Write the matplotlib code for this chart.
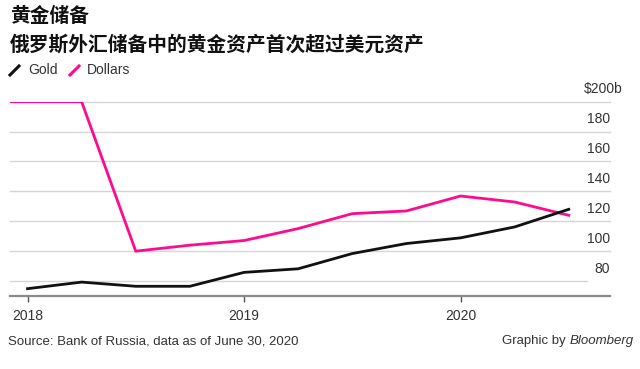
import matplotlib
matplotlib.use('Agg')
import matplotlib.pyplot as plt
from matplotlib.lines import Line2D

plt.rcParams['font.family'] = ['Liberation Sans', 'Noto Sans CJK SC']

# data (billions of US$, quarterly)
gold_dates = [2018.0, 2018.25, 2018.5, 2018.75, 2019.0, 2019.25, 2019.5, 2019.75,
              2020.0, 2020.25, 2020.5]
gold_vals = [74.9, 79.3, 76.5, 76.5, 85.8, 88.2, 98.4, 105.1, 108.9, 116.2, 128.0]

dollar_dates = [2017.75, 2018.0, 2018.25, 2018.5, 2018.75, 2019.0, 2019.25, 2019.5,
                2019.75, 2020.0, 2020.25, 2020.5]
dollar_vals = [200.0, 200.0, 200.0, 100.0, 104.0, 107.1, 115.1, 125.1, 126.9, 136.9,
               132.9, 124.0]

y_ticks = [80, 100, 120, 140, 160, 180, 200]
y_labels = ['80', '100', '120', '140', '160', '180', '$200b']
x_ticks = [2018, 2019, 2020]
x_labels = ['2018', '2019', '2020']

W, H = 640, 369
GOLD_C = '#111111'
DOLLAR_C = '#ff0a8c'
TEXT_C = '#333333'

fig = plt.figure(figsize=(6.4, 3.69), dpi=100)
# axes spans px x 10..610, y 101.7..296
ax = fig.add_axes([10 / W, (H - 296) / H, 600 / W, (296 - 101.7) / H])
x0 = 2018 - 17.5 / 216.5
x1 = 2018 + 582.5 / 216.5
ax.set_xlim(x0, x1)
ax.set_ylim(70, 200)

# gridlines
for v in y_ticks:
    right = 2018 + (587 - 27.5) / 216.5 if v == 80 else x1
    ax.plot([x0, right], [v, v], color='#d6d6d6', lw=1.0, zorder=1, clip_on=False)

ax.plot(dollar_dates, dollar_vals, color=DOLLAR_C, lw=2.0, zorder=3,
        solid_joinstyle='miter')
ax.plot(gold_dates, gold_vals, color=GOLD_C, lw=2.0, zorder=4)

# y labels sit above gridlines at the right
for v, lab in zip(y_ticks, y_labels):
    if lab.startswith('$'):
        ax.text(2018 + (623 - 27.5) / 216.5, v + 8.2, lab, ha='right', va='center',
                fontsize=10, color=TEXT_C)
    else:
        ax.text(x1, v + 8.2, lab, ha='right', va='center', fontsize=10, color=TEXT_C)

for s in ['left', 'right', 'top']:
    ax.spines[s].set_visible(False)
ax.spines['bottom'].set_color('#8a8a8a')
ax.spines['bottom'].set_linewidth(1.6)
ax.set_yticks([])
ax.set_xticks(x_ticks)
ax.set_xticklabels(x_labels)
ax.tick_params(axis='x', length=4.5, width=1, color='#555555', pad=5,
               labelsize=10, labelcolor=TEXT_C)

# titles
cjk = ['Noto Sans CJK SC']
fig.text(10 / W, 1 - 16 / H, '黄金储备', family=cjk, fontsize=14.2, fontweight='bold',
         va='center', ha='left', color='#111111')
fig.text(10 / W, 1 - 45 / H, '俄罗斯外汇储备中的黄金资产首次超过美元资产', family=cjk,
         fontsize=14.2, fontweight='bold', va='center', ha='left', color='#111111')

# legend
def px(x, y):
    return x / W, 1 - y / H

for (xa, xb), col, lab, tx in [((10, 19), GOLD_C, 'Gold', 28),
                                ((70, 79), DOLLAR_C, 'Dollars', 87)]:
    (ax1, ay1), (ax2, ay2) = px(xa, 75), px(xb, 66)
    fig.add_artist(Line2D([ax1, ax2], [ay1, ay2], color=col, lw=2.2,
                          transform=fig.transFigure))
    fig.text(tx / W, 1 - 70 / H, lab, fontsize=10, color=TEXT_C, va='center', ha='left')

# footer
fig.text(8 / W, 1 - 341 / H, 'Source: Bank of Russia, data as of June 30, 2020',
         fontsize=9.5, color=TEXT_C, va='center', ha='left')
bt = fig.text(634 / W, 1 - 341 / H, 'Bloomberg', fontsize=9.5, style='italic',
              color=TEXT_C, va='center', ha='right')
fig.canvas.draw()
bb = bt.get_window_extent()
fig.text(bb.x0 / W - 1 / W, 1 - 341 / H, 'Graphic by ', fontsize=9.5, color=TEXT_C,
         va='center', ha='right')

fig.savefig('out.png', dpi=100)
